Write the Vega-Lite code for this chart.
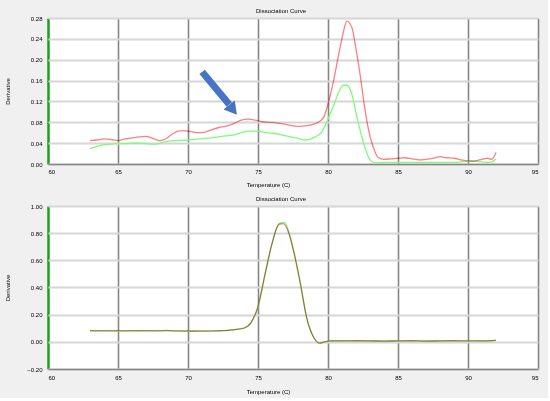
{
  "$schema": "https://vega.github.io/schema/vega-lite/v6.json",
  "background": "#f0f0f0",
  "padding": {"left": 4, "top": 8, "right": 10, "bottom": 4},
  "spacing": 9,
  "config": {
    "font": "Liberation Sans",
    "view": {"stroke": null, "fill": "white"},
    "title": {"fontSize": 6, "fontWeight": "normal", "color": "black", "anchor": "middle", "dx": -12, "offset": 1},
    "axis": {"labelFontSize": 6, "titleFontSize": 6, "titleFontWeight": "normal", "labelColor": "black", "titleColor": "black", "ticks": false, "labelOverlap": false, "tickCount": 20}
  },
  "datasets": {
    "top": [
      {"T":63.0,"D":0.045,"series":"red"},{"T":63.5,"D":0.046,"series":"red"},{"T":64.0,"D":0.048,"series":"red"},{"T":64.5,"D":0.047,"series":"red"},
      {"T":65.0,"D":0.045,"series":"red"},{"T":65.5,"D":0.048,"series":"red"},{"T":66.0,"D":0.050,"series":"red"},{"T":66.5,"D":0.052,"series":"red"},
      {"T":67.0,"D":0.053,"series":"red"},{"T":67.5,"D":0.049,"series":"red"},{"T":68.0,"D":0.045,"series":"red"},{"T":68.4,"D":0.048,"series":"red"},
      {"T":68.8,"D":0.056,"series":"red"},{"T":69.3,"D":0.063,"series":"red"},{"T":69.7,"D":0.064,"series":"red"},{"T":70.2,"D":0.062,"series":"red"},
      {"T":70.7,"D":0.060,"series":"red"},{"T":71.2,"D":0.061,"series":"red"},{"T":71.7,"D":0.066,"series":"red"},{"T":72.2,"D":0.070,"series":"red"},
      {"T":72.8,"D":0.073,"series":"red"},{"T":73.3,"D":0.078,"series":"red"},{"T":73.8,"D":0.084,"series":"red"},{"T":74.3,"D":0.086,"series":"red"},
      {"T":74.8,"D":0.084,"series":"red"},{"T":75.3,"D":0.081,"series":"red"},{"T":75.8,"D":0.080,"series":"red"},{"T":76.3,"D":0.079,"series":"red"},
      {"T":76.8,"D":0.077,"series":"red"},{"T":77.3,"D":0.074,"series":"red"},{"T":77.8,"D":0.072,"series":"red"},{"T":78.3,"D":0.073,"series":"red"},
      {"T":78.8,"D":0.075,"series":"red"},{"T":79.3,"D":0.080,"series":"red"},{"T":79.7,"D":0.090,"series":"red"},{"T":80.0,"D":0.115,"series":"red"},
      {"T":80.4,"D":0.160,"series":"red"},{"T":80.8,"D":0.215,"series":"red"},{"T":81.1,"D":0.253,"series":"red"},{"T":81.35,"D":0.274,"series":"red"},
      {"T":81.7,"D":0.262,"series":"red"},{"T":82.0,"D":0.221,"series":"red"},{"T":82.3,"D":0.170,"series":"red"},{"T":82.6,"D":0.112,"series":"red"},
      {"T":82.9,"D":0.065,"series":"red"},{"T":83.2,"D":0.035,"series":"red"},{"T":83.6,"D":0.012,"series":"red"},{"T":84.0,"D":0.009,"series":"red"},
      {"T":84.5,"D":0.010,"series":"red"},{"T":85.0,"D":0.011,"series":"red"},{"T":85.5,"D":0.012,"series":"red"},{"T":86.0,"D":0.010,"series":"red"},
      {"T":86.5,"D":0.008,"series":"red"},{"T":87.0,"D":0.009,"series":"red"},{"T":87.5,"D":0.011,"series":"red"},{"T":88.0,"D":0.014,"series":"red"},
      {"T":88.5,"D":0.012,"series":"red"},{"T":89.0,"D":0.011,"series":"red"},{"T":89.5,"D":0.008,"series":"red"},{"T":90.0,"D":0.006,"series":"red"},
      {"T":90.5,"D":0.006,"series":"red"},{"T":91.0,"D":0.009,"series":"red"},{"T":91.4,"D":0.011,"series":"red"},{"T":91.7,"D":0.009,"series":"red"},
      {"T":92.0,"D":0.022,"series":"red"},
      {"T":63.0,"D":0.029,"series":"green"},{"T":63.5,"D":0.034,"series":"green"},{"T":64.0,"D":0.037,"series":"green"},{"T":64.5,"D":0.038,"series":"green"},
      {"T":65.0,"D":0.039,"series":"green"},{"T":65.5,"D":0.039,"series":"green"},{"T":66.0,"D":0.040,"series":"green"},{"T":66.5,"D":0.040,"series":"green"},
      {"T":67.0,"D":0.039,"series":"green"},{"T":67.6,"D":0.038,"series":"green"},{"T":68.0,"D":0.040,"series":"green"},{"T":68.6,"D":0.044,"series":"green"},
      {"T":69.2,"D":0.045,"series":"green"},{"T":70.0,"D":0.046,"series":"green"},{"T":70.8,"D":0.048,"series":"green"},{"T":71.6,"D":0.050,"series":"green"},
      {"T":72.4,"D":0.053,"series":"green"},{"T":73.3,"D":0.056,"series":"green"},{"T":73.8,"D":0.060,"series":"green"},{"T":74.3,"D":0.063,"series":"green"},
      {"T":75.0,"D":0.063,"series":"green"},{"T":75.6,"D":0.060,"series":"green"},{"T":76.3,"D":0.058,"series":"green"},{"T":77.0,"D":0.054,"series":"green"},
      {"T":77.7,"D":0.050,"series":"green"},{"T":78.4,"D":0.046,"series":"green"},{"T":79.1,"D":0.052,"series":"green"},{"T":79.6,"D":0.063,"series":"green"},
      {"T":79.9,"D":0.080,"series":"green"},{"T":80.4,"D":0.112,"series":"green"},{"T":80.8,"D":0.140,"series":"green"},{"T":81.1,"D":0.151,"series":"green"},
      {"T":81.4,"D":0.151,"series":"green"},{"T":81.7,"D":0.134,"series":"green"},{"T":82.1,"D":0.086,"series":"green"},{"T":82.6,"D":0.035,"series":"green"},
      {"T":83.0,"D":0.008,"series":"green"},{"T":83.4,"D":0.002,"series":"green"},{"T":84.0,"D":0.003,"series":"green"},{"T":85.0,"D":0.003,"series":"green"},
      {"T":86.0,"D":0.003,"series":"green"},{"T":87.0,"D":0.003,"series":"green"},{"T":88.0,"D":0.003,"series":"green"},{"T":89.0,"D":0.003,"series":"green"},
      {"T":90.0,"D":0.005,"series":"green"},{"T":90.5,"D":0.005,"series":"green"},{"T":91.0,"D":0.004,"series":"green"},{"T":91.5,"D":0.003,"series":"green"},
      {"T":92.0,"D":0.009,"series":"green"}
    ],
    "arrow": [{"T":71.01,"D":0.1767,"T2":72.95,"D2":0.114}],
    "arrowhead": [{"T":73.12,"D":0.107}],
    "bottom": [
      {"T":63.0,"D":0.080,"series":"green"},{"T":64.0,"D":0.082,"series":"green"},{"T":65.0,"D":0.079,"series":"green"},{"T":66.0,"D":0.083,"series":"green"},
      {"T":67.0,"D":0.080,"series":"green"},{"T":68.0,"D":0.082,"series":"green"},{"T":69.0,"D":0.080,"series":"green"},{"T":70.0,"D":0.078,"series":"green"},
      {"T":71.0,"D":0.081,"series":"green"},{"T":72.0,"D":0.080,"series":"green"},{"T":73.0,"D":0.087,"series":"green"},{"T":73.5,"D":0.093,"series":"green"},
      {"T":74.0,"D":0.102,"series":"green"},{"T":74.5,"D":0.140,"series":"green"},{"T":75.0,"D":0.255,"series":"green"},{"T":75.5,"D":0.490,"series":"green"},
      {"T":76.0,"D":0.720,"series":"green"},{"T":76.5,"D":0.870,"series":"green"},{"T":76.9,"D":0.880,"series":"green"},{"T":77.2,"D":0.810,"series":"green"},
      {"T":77.6,"D":0.650,"series":"green"},{"T":78.0,"D":0.450,"series":"green"},{"T":78.5,"D":0.170,"series":"green"},{"T":79.0,"D":0.030,"series":"green"},
      {"T":79.4,"D":-0.008,"series":"green"},{"T":79.8,"D":0.000,"series":"green"},{"T":80.2,"D":0.006,"series":"green"},{"T":81.0,"D":0.008,"series":"green"},
      {"T":82.0,"D":0.007,"series":"green"},{"T":83.0,"D":0.006,"series":"green"},{"T":84.0,"D":0.006,"series":"green"},{"T":85.0,"D":0.006,"series":"green"},
      {"T":86.0,"D":0.007,"series":"green"},{"T":87.0,"D":0.006,"series":"green"},{"T":88.0,"D":0.006,"series":"green"},{"T":89.0,"D":0.007,"series":"green"},
      {"T":90.0,"D":0.007,"series":"green"},{"T":91.0,"D":0.006,"series":"green"},{"T":91.7,"D":0.008,"series":"green"},{"T":92.0,"D":0.013,"series":"green"},
      {"T":63.0,"D":0.082,"series":"red"},{"T":64.0,"D":0.080,"series":"red"},{"T":65.0,"D":0.082,"series":"red"},{"T":66.0,"D":0.080,"series":"red"},
      {"T":67.0,"D":0.082,"series":"red"},{"T":68.0,"D":0.080,"series":"red"},{"T":68.5,"D":0.084,"series":"red"},{"T":69.0,"D":0.081,"series":"red"},
      {"T":70.0,"D":0.080,"series":"red"},{"T":71.0,"D":0.079,"series":"red"},{"T":72.0,"D":0.081,"series":"red"},{"T":73.0,"D":0.086,"series":"red"},
      {"T":73.5,"D":0.092,"series":"red"},{"T":74.0,"D":0.100,"series":"red"},{"T":74.5,"D":0.142,"series":"red"},{"T":75.0,"D":0.262,"series":"red"},
      {"T":75.5,"D":0.500,"series":"red"},{"T":76.0,"D":0.725,"series":"red"},{"T":76.5,"D":0.865,"series":"red"},{"T":76.8,"D":0.870,"series":"red"},
      {"T":77.2,"D":0.800,"series":"red"},{"T":77.6,"D":0.640,"series":"red"},{"T":78.0,"D":0.440,"series":"red"},{"T":78.5,"D":0.165,"series":"red"},
      {"T":79.0,"D":0.028,"series":"red"},{"T":79.4,"D":-0.010,"series":"red"},{"T":79.8,"D":0.002,"series":"red"},{"T":80.2,"D":0.007,"series":"red"},
      {"T":81.0,"D":0.007,"series":"red"},{"T":82.0,"D":0.008,"series":"red"},{"T":83.0,"D":0.007,"series":"red"},{"T":84.0,"D":0.005,"series":"red"},
      {"T":85.0,"D":0.007,"series":"red"},{"T":86.0,"D":0.008,"series":"red"},{"T":87.0,"D":0.005,"series":"red"},{"T":88.0,"D":0.007,"series":"red"},
      {"T":89.0,"D":0.008,"series":"red"},{"T":90.0,"D":0.007,"series":"red"},{"T":91.0,"D":0.007,"series":"red"},{"T":92.0,"D":0.011,"series":"red"}
    ]
  },
  "vconcat": [
    {
      "title": "Dissociation Curve",
      "width": 490,
      "height": 146,
      "layer": [
        {
          "data": {"name": "top"},
          "transform": [{"filter": "datum.series === 'green'"}],
          "mark": {"type": "line", "strokeWidth": 1.3, "interpolate": "monotone"},
          "encoding": {
            "x": {"field": "T", "type": "quantitative", "scale": {"domain": [60, 95], "nice": false},
              "axis": {"title": "Temperature (C)", "values": [60,65,70,75,80,85,90,95], "format": "d", "labelPadding": 4, "titlePadding": 7, "titleX": 220,
                "grid": true, "gridColor": {"condition": {"test": "datum.value === 60", "value": "#1e9e1e"}, "value": "#858585"},
                "gridWidth": {"condition": {"test": "datum.value === 60", "value": 2.5}, "value": 1.6},
                "domainColor": "#858585", "domainWidth": 1.6}},
            "y": {"field": "D", "type": "quantitative", "scale": {"domain": [0, 0.28], "nice": false},
              "axis": {"title": "Derivative", "values": [0,0.04,0.08,0.12,0.16,0.2,0.24,0.28], "format": ".2f", "labelPadding": 6, "titleX": -38,
                "domain": false, "grid": true, "gridColor": "#d6d6d6", "gridWidth": 1.8}},
            "color": {"field": "series", "type": "nominal", "scale": {"domain": ["red", "green"], "range": ["#ff7f7f", "#7cfc7c"]}, "legend": null}
          }
        },
        {
          "data": {"name": "top"},
          "transform": [{"filter": "datum.series === 'red'"}],
          "mark": {"type": "line", "strokeWidth": 1.3, "interpolate": "monotone", "blend": "multiply"},
          "encoding": {
            "x": {"field": "T", "type": "quantitative"},
            "y": {"field": "D", "type": "quantitative"},
            "color": {"field": "series", "type": "nominal", "legend": null}
          }
        },
        {
          "data": {"name": "arrow"},
          "mark": {"type": "rule", "strokeWidth": 7, "color": "#4674c6", "strokeCap": "butt"},
          "encoding": {
            "x": {"field": "T", "type": "quantitative"},
            "y": {"field": "D", "type": "quantitative"},
            "x2": {"field": "T2"},
            "y2": {"field": "D2"}
          }
        },
        {
          "data": {"name": "arrowhead"},
          "mark": {"type": "point", "shape": "triangle", "filled": true, "opacity": 1, "size": 175, "angle": 141.5, "color": "#4674c6", "stroke": "#2f528f", "strokeWidth": 0.5},
          "encoding": {
            "x": {"field": "T", "type": "quantitative"},
            "y": {"field": "D", "type": "quantitative"}
          }
        }
      ]
    },
    {
      "title": "Dissociation Curve",
      "width": 490,
      "height": 163,
      "layer": [
        {
          "data": {"name": "bottom"},
          "transform": [{"filter": "datum.series === 'green'"}],
          "mark": {"type": "line", "strokeWidth": 1.3, "interpolate": "monotone"},
          "encoding": {
            "x": {"field": "T", "type": "quantitative", "scale": {"domain": [60, 95], "nice": false},
              "axis": {"title": "Temperature (C)", "values": [60,65,70,75,80,85,90,95], "format": "d", "labelPadding": 5, "titlePadding": 8, "titleX": 220,
                "grid": true, "gridColor": {"condition": {"test": "datum.value === 60", "value": "#1e9e1e"}, "value": "#858585"},
                "gridWidth": {"condition": {"test": "datum.value === 60", "value": 2.5}, "value": 1.6},
                "domainColor": "#858585", "domainWidth": 1.6}},
            "y": {"field": "D", "type": "quantitative", "scale": {"domain": [-0.2, 1.0], "nice": false},
              "axis": {"title": "Derivative", "values": [-0.2,0,0.2,0.4,0.6,0.8,1.0], "format": ".2f", "labelPadding": 6, "titleX": -38,
                "domain": false, "grid": true, "gridColor": "#d6d6d6", "gridWidth": 1.8}},
            "color": {"field": "series", "type": "nominal", "scale": {"domain": ["red", "green"], "range": ["#ff7f7f", "#7cfc7c"]}, "legend": null}
          }
        },
        {
          "data": {"name": "bottom"},
          "transform": [{"filter": "datum.series === 'red'"}],
          "mark": {"type": "line", "strokeWidth": 1.3, "interpolate": "monotone", "blend": "multiply"},
          "encoding": {
            "x": {"field": "T", "type": "quantitative"},
            "y": {"field": "D", "type": "quantitative"},
            "color": {"field": "series", "type": "nominal", "legend": null}
          }
        }
      ]
    }
  ]
}
